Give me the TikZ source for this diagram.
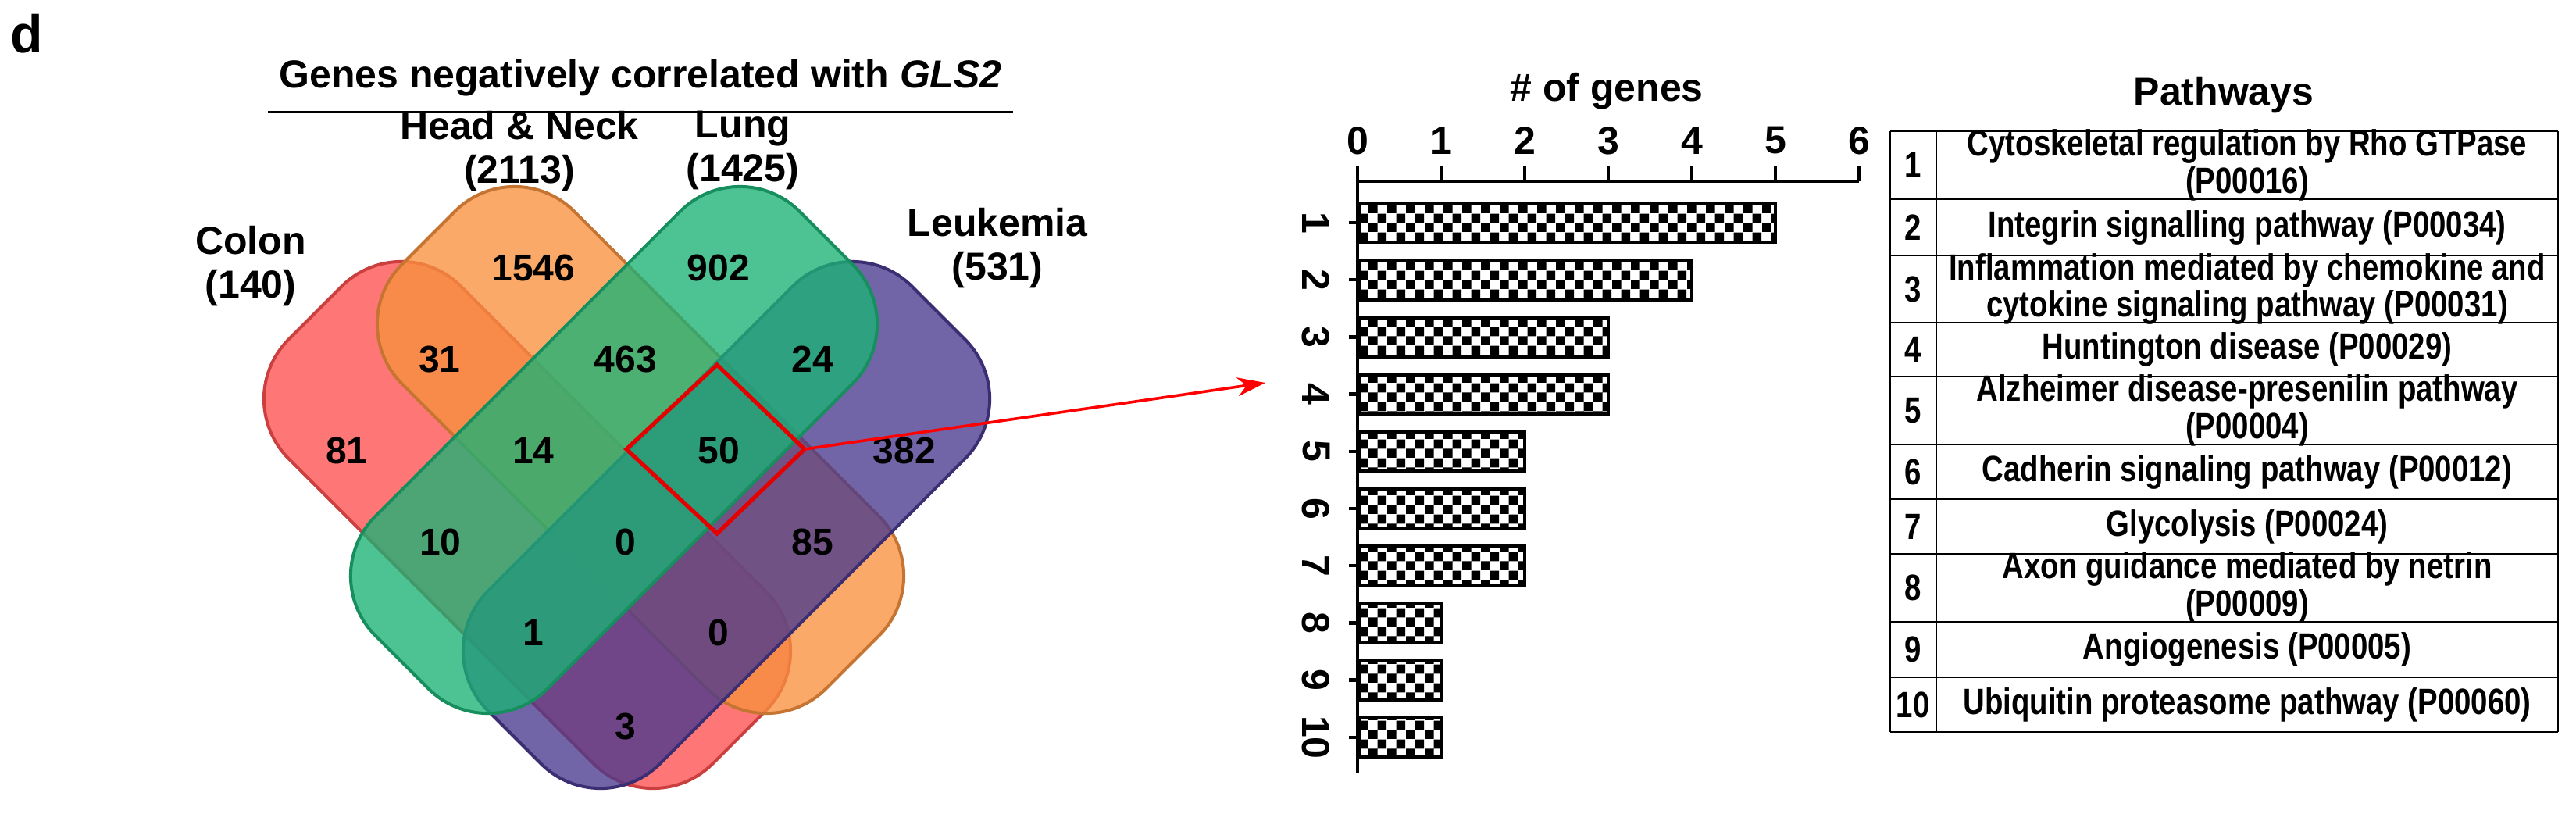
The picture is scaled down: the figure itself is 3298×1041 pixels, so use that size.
\documentclass[tikz,border=0pt]{standalone}
\usepackage{fontspec}
\setmainfont{Liberation Sans}
\newfontfamily\narrowf{Liberation Sans}[FakeStretch=0.82]
\usetikzlibrary{patterns,arrows.meta}
\definecolor{cRed}{HTML}{FF4F4F}
\definecolor{cOra}{HTML}{F8913F}
\definecolor{cGre}{HTML}{1BB276}
\definecolor{cPur}{HTML}{4A3A8E}
\pgfdeclarepatternformonly{fcheck}{\pgfpointorigin}{\pgfpoint{6pt}{6pt}}{\pgfpoint{6pt}{6pt}}{%
  \pgfpathrectangle{\pgfpointorigin}{\pgfpoint{3pt}{3pt}}%
  \pgfpathrectangle{\pgfpoint{3pt}{3pt}}{\pgfpoint{3pt}{3pt}}%
  \pgfusepath{fill}}
\begin{document}
\begin{tikzpicture}[x=0.25pt,y=-0.25pt,
  vset/.style={draw=#1!80!black,fill=#1,fill opacity=0.78,line width=1pt,rectangle,rounded corners=27pt,minimum width=192pt,minimum height=78pt,inner sep=0pt},
  num/.style={font=\fontsize{12}{14}\selectfont\bfseries},
  lab/.style={font=\fontsize{12.5}{14}\selectfont\bfseries,align=center},
  tick/.style={font=\fontsize{12.5}{14}\selectfont\bfseries},
  bar/.style={draw=black,line width=1.2pt,pattern=fcheck,pattern color=black},
  cell/.style={font=\fontsize{11.7}{10.8}\selectfont\narrowf\bfseries,align=center},
  grid/.style={line width=0.7pt,draw=black}]
\useasboundingbox (0,0) rectangle (3298,1041);
\node[font=\fontsize{17}{20}\selectfont\bfseries] (d) at (34,43) {d};
% Venn
\node[vset=cRed,rotate=-45] (colon) at (675,672) {};
\node[vset=cOra,rotate=-45] (hn) at (820,576) {};
\node[vset=cPur,rotate=45] (leuk) at (930,672) {};
\node[vset=cGre,rotate=45] (lung) at (786,576) {};
\node[lab] (title) at (820,100) {Genes negatively correlated with \textit{GLS2}};
\draw[line width=0.8pt] (title.south west)++(0,6) coordinate (u1) -- (u1 -| title.south east);
\node[lab] (lhn) at (665,194) {Head \& Neck\\(2113)};
\node[lab] (llung) at (951,192) {Lung\\(1425)};
\node[lab] (lcol) at (321,341) {Colon\\(140)};
\node[lab] (lleuk) at (1277,318) {Leukemia\\(531)};
\foreach \t/\x/\y/\n in {1546/683/343/a,902/920/343/b,31/563/460/c,463/801/460/e,24/1040/460/f,81/444/577/g,14/683/577/h,50/920/577/i,382/1158/577/j,10/564/694/k,0/801/694/l,85/1040/694/m,1/683/810/n,0/920/810/o,3/801/930/p}
  \node[num] (v\n) at (\x,\y) {\t};
\coordinate (dt) at (918,467); \coordinate (dr) at (1030,575);
\coordinate (db) at (918,683); \coordinate (dl) at (802,575);
\draw[red!90!black,line width=1.3pt,line join=miter] (dt)--(dr)--(db)--(dl)--cycle;
\coordinate (atip) at (1620,490);
\draw[red,line width=0.9pt,-{Stealth[length=9pt,width=6pt]}] (dr) -- (atip);
% bar chart
\node[lab] (xt) at (2057,117) {\# of genes};
\coordinate (o) at (1738,232);
\draw[line width=1.1pt] (o) -- (2380,232);
\draw[line width=1.1pt] (o) -- (1738,990);
\foreach \i in {0,...,6}{
  \draw[line width=1.1pt] (1738+107*\i,232) -- (1738+107*\i,213);
  \node[tick] (tx\i) at (1738+107*\i,180) {\i};}
\foreach \i/\v in {1/5,2/4,3/3,4/3,5/2,6/2,7/2,8/1,9/1,10/1}{
  \pgfmathsetmacro{\yc}{285+73.2*(\i-1)}
  \draw[bar] (1740,\yc-25) rectangle (1738+107*\v,\yc+25);
  \draw[line width=1.1pt] (1727,\yc) -- (1738,\yc);
  \node[tick,rotate=-90] (ty\i) at (1685,\yc) {\i};}
% table
\node[lab] (pt) at (2847,122) {Pathways};
\def\rows{168,255,327,413,482,569,639,709,796,867,937}
\foreach \r in \rows \draw[grid] (2420,\r) -- (3275,\r);
\draw[grid] (2420,168) -- (2420,937);
\draw[grid] (2479,168) -- (2479,937);
\draw[grid] (3275,168) -- (3275,937);
\foreach \i/\a/\b/\t in {
 1/168/255/{Cytoskeletal regulation by Rho GTPase\\(P00016)},
 2/255/327/{Integrin signalling pathway (P00034)},
 3/327/413/{Inflammation mediated by chemokine and\\cytokine signaling pathway (P00031)},
 4/413/482/{Huntington disease (P00029)},
 5/482/569/{Alzheimer disease-presenilin pathway\\(P00004)},
 6/569/639/{Cadherin signaling pathway (P00012)},
 7/639/709/{Glycolysis (P00024)},
 8/709/796/{Axon guidance mediated by netrin\\(P00009)},
 9/796/867/{Angiogenesis (P00005)},
 10/867/937/{Ubiquitin proteasome pathway (P00060)}}{
  \node[cell] (n\i) at (2449,{(\a+\b)/2}) {\i};
  \node[cell] (p\i) at (2877,{(\a+\b)/2}) {\t};}
\end{tikzpicture}
\end{document}
